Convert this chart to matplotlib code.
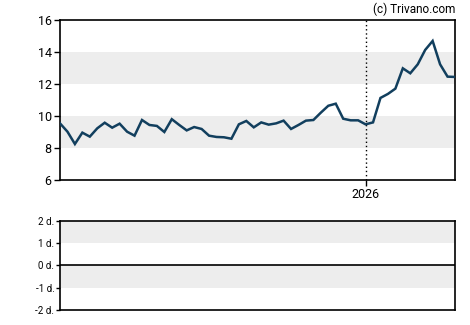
import numpy as np
import pandas as pd
import matplotlib
matplotlib.use("Agg")
import matplotlib.pyplot as plt

plt.rcParams['font.family'] = ['Roboto', 'DejaVu Sans']

# cours hebdomadaire
dates = pd.date_range("2025-03-20", periods=54, freq="7D")
cours = [9.54, 9.02, 8.25, 8.96, 8.71, 9.23, 9.58, 9.27, 9.52, 9.02,
         8.77, 9.75, 9.44, 9.38, 9.00, 9.80, 9.44, 9.10, 9.31, 9.19,
         8.77, 8.69, 8.67, 8.58, 9.48, 9.69, 9.29, 9.60, 9.46, 9.54,
         9.71, 9.19, 9.44, 9.71, 9.75, 10.21, 10.64, 10.77, 9.83, 9.73,
         9.73, 9.48, 9.60, 11.13, 11.38, 11.71, 12.98, 12.67, 13.23, 14.13,
         14.69, 13.23, 12.46, 12.44]
annee_date = pd.Timestamp("2026-01-01")
annee_label = "2026"
y_ticks = [6, 8, 10, 12, 14, 16]
bandes_haut = [(8, 10), (12, 14)]
d_ticks = [-2, -1, 0, 1, 2]
d_labels = ["-2 d.", "-1 d.", "0 d.", "1 d.", "2 d."]
bandes_bas = [(-1, 0), (1, 2)]

gris = "#ededed"
bleu = "#123f5e"

fig = plt.figure(figsize=(4.7, 3.25), dpi=100)
ax = fig.add_axes([60/470, 1-180/325, 395/470, 160/325])
ax2 = fig.add_axes([60/470, 1-310/325, 395/470, 89.3/325])

for lo, hi in bandes_haut:
    ax.axhspan(lo, hi, color=gris, lw=0, zorder=0)
ax.plot(dates, cours, color=bleu, lw=1.8, zorder=3, solid_joinstyle="miter")
ax.axvline(annee_date, color="black", lw=1, ls=(0, (1, 2)), zorder=2)
ax.set_xlim(dates[0], dates[-1])
ax.set_ylim(6, 16)
ax.set_yticks(y_ticks)
ax.set_xticks([annee_date])
ax.set_xticklabels([annee_label])
ax.tick_params(axis="both", direction="out", length=4, width=1, labelsize=9, pad=2)

for lo, hi in bandes_bas:
    ax2.axhspan(lo, hi, color=gris, lw=0, zorder=0)
ax2.axhline(0, color="black", lw=1.2, zorder=2)
ax2.set_xlim(0, 1)
ax2.set_ylim(-2, 2)
ax2.set_yticks(d_ticks)
ax2.set_yticklabels(d_labels)
ax2.set_xticks([])
ax2.tick_params(axis="y", direction="out", length=3, width=1, labelsize=7, pad=1)

for a in (ax, ax2):
    for s in a.spines.values():
        s.set_linewidth(1.2)

fig.text(455/470, 1-9/325, "(c) Trivano.com", ha="right", va="center", fontsize=8.5)

fig.savefig("out.png", dpi=100)
